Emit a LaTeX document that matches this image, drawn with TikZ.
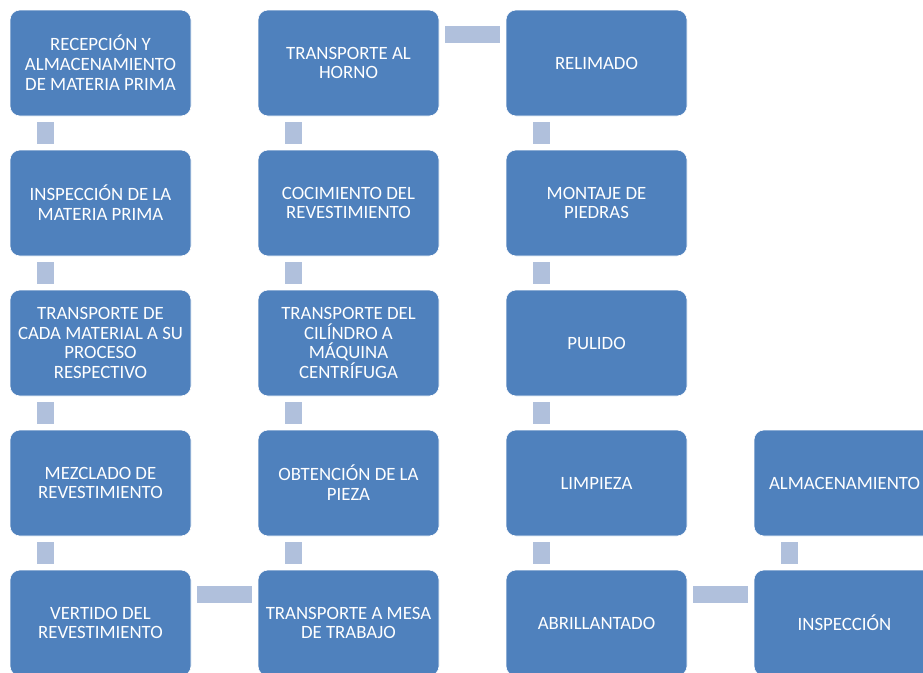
\documentclass[tikz,border=0pt]{standalone}
\usepackage{fontspec}
\setmainfont{Carlito}
\usetikzlibrary{calc}
\definecolor{boxblue}{HTML}{4F81BD}
\definecolor{connblue}{HTML}{B0C0DC}
\tikzset{
  stepbox/.style={rectangle, rounded corners=10pt, minimum width=181pt, minimum height=106pt,
    fill=boxblue, draw=white, line width=0.6pt, text=white, align=center, inner sep=2pt,
    font=\fontsize{18.8}{19.9}\selectfont},
  conn/.style={fill=connblue}
}
\begin{document}
\begin{tikzpicture}[x=1pt,y=-1pt]
\useasboundingbox (0,0) rectangle (923,672);
\begin{scope}
\clip (0,0) rectangle (923,672);
% column 1
\node[stepbox] (a1) at (100.5,63) {RECEPCIÓN Y\\ALMACENAMIENTO\\DE MATERIA PRIMA};
\node[stepbox] (a2) at (100.5,203) {INSPECCIÓN DE LA\\MATERIA PRIMA};
\node[stepbox] (a3) at (100.5,343) {TRANSPORTE DE\\CADA MATERIAL A SU\\PROCESO\\RESPECTIVO};
\node[stepbox] (a4) at (100.5,483) {MEZCLADO DE\\REVESTIMIENTO};
\node[stepbox] (a5) at (100.5,623) {VERTIDO DEL\\REVESTIMIENTO};
% column 2
\node[stepbox] (b1) at (348.5,63) {TRANSPORTE AL\\HORNO};
\node[stepbox] (b2) at (348.5,203) {COCIMIENTO DEL\\REVESTIMIENTO};
\node[stepbox] (b3) at (348.5,343) {TRANSPORTE DEL\\CILÍNDRO A\\MÁQUINA\\CENTRÍFUGA};
\node[stepbox] (b4) at (348.5,483) {OBTENCIÓN DE LA\\PIEZA};
\node[stepbox] (b5) at (348.5,623) {TRANSPORTE A MESA\\DE TRABAJO};
% column 3
\node[stepbox] (c1) at (596.5,63) {RELIMADO};
\node[stepbox] (c2) at (596.5,203) {MONTAJE DE\\PIEDRAS};
\node[stepbox] (c3) at (596.5,343) {PULIDO};
\node[stepbox] (c4) at (596.5,483) {LIMPIEZA};
\node[stepbox] (c5) at (596.5,623) {ABRILLANTADO};
% column 4
\node[stepbox] (d4) at (844.5,483) {ALMACENAMIENTO};
\node[stepbox] (d5) at (844.5,623) {INSPECCIÓN};
% vertical connectors
\foreach \col in {a,b,c}{
  \foreach \r/\s in {1/2,2/3,3/4,4/5}{
    \fill[conn] ($(\col\r.south west)+(27,6)$) rectangle ($(\col\s.north west)+(44,-6)$);
  }
}
\fill[conn] ($(d4.south west)+(27,6)$) rectangle ($(d5.north west)+(44,-6)$);
% horizontal connectors
\fill[conn] ($(a5.north east)+(6,16)$) rectangle ($(b5.north west)+(-6,33)$);
\fill[conn] ($(b1.north east)+(6,16)$) rectangle ($(c1.north west)+(-6,33)$);
\fill[conn] ($(c5.north east)+(6,16)$) rectangle ($(d5.north west)+(-6,33)$);
\end{scope}
\end{tikzpicture}
\end{document}
